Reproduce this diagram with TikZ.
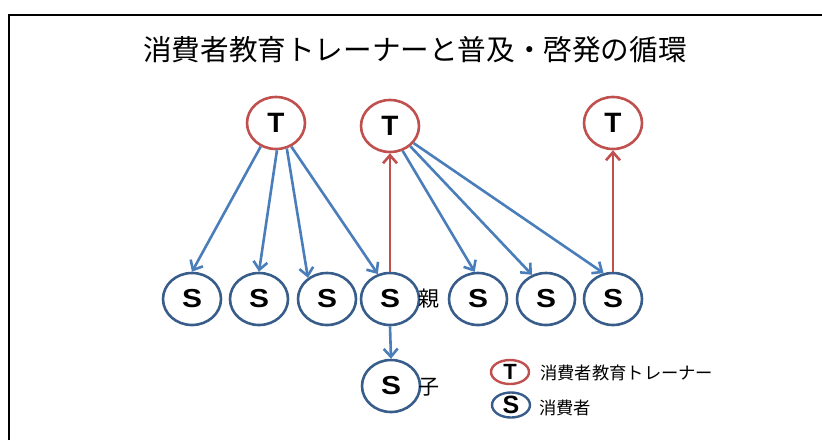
\documentclass[tikz,border=0pt]{standalone}
\usepackage{fontspec}
\setmainfont{Liberation Sans}
\newfontfamily\jp{Noto Sans CJK JP}
\usetikzlibrary{shapes.geometric,arrows.meta}
\definecolor{tred}{RGB}{192,80,77}
\definecolor{sblue}{RGB}{56,93,138}
\definecolor{ablue}{RGB}{74,126,187}
\newcommand{\wideS}{\scalebox{1.15}[1]{S}}
\tikzset{
  tnode/.style={ellipse,draw=tred,line width=2.6pt,minimum width=58pt,minimum height=52pt,inner sep=0pt,font=\bfseries\fontsize{28}{28}\selectfont},
  snode/.style={ellipse,draw=sblue,line width=2.6pt,minimum width=58pt,minimum height=52pt,inner sep=0pt,font=\bfseries\fontsize{26}{26}\selectfont},
  tleg/.style={ellipse,draw=tred,line width=2.4pt,minimum width=38pt,minimum height=24pt,inner sep=0pt,font=\bfseries\fontsize{22}{22}\selectfont},
  sleg/.style={ellipse,draw=sblue,line width=2.4pt,minimum width=38pt,minimum height=24pt,inner sep=0pt,font=\bfseries\fontsize{25}{25}\selectfont},
  barr/.style={draw=ablue,line width=2.6pt,-{Straight Barb[length=8pt,width=14pt]}},
  rarr/.style={draw=tred,line width=2.6pt,-{Straight Barb[length=8pt,width=14pt]}},
  jtxt/.style={inner sep=0pt,font=\jp\fontsize{21}{21}\selectfont},
  legtxt/.style={inner sep=0pt,anchor=west,font=\jp\fontsize{17.3}{17.3}\selectfont},
}
\begin{document}
\begin{tikzpicture}[x=1pt,y=-1pt]
\useasboundingbox (0,0) rectangle (822,440);
\draw[line width=2pt] (9,440) -- (9,15) -- (822,15);
\node[inner sep=0pt,font=\jp\fontsize{28.6}{28.6}\selectfont] (title) at (415,50) {消費者教育トレーナーと普及・啓発の循環};
% trainers
\node[tnode] (T1) at (276,123) {T};
\node[tnode] (T2) at (390,126) {T};
\node[tnode] (T3) at (613,123) {T};
% consumers
\node[snode] (S1) at (192,299) {\wideS};
\node[snode] (S2) at (259,299) {\wideS};
\node[snode] (S3) at (327,299) {\wideS};
\node[snode] (S4) at (390,299) {\wideS};
\node[snode] (S5) at (478,299) {\wideS};
\node[snode] (S6) at (546,299) {\wideS};
\node[snode] (S7) at (613,299) {\wideS};
\node[snode] (C) at (391,386) {\wideS};
\node[jtxt] (oya) at (429,299) {親};
\node[jtxt] (ko) at (429,387) {子};
% arrows
\draw[barr] (T1.-123) -- (S1.north);
\draw[barr] (T1.-88) -- (S2.north);
\draw[barr] (T1.-67) -- (S3.132);
\draw[barr] (T1.-57) -- (S4.116);
\draw[barr] (T2.-63) -- (S5.97);
\draw[barr] (T2.-45) -- (S6.120);
\draw[barr] (T2.-36) -- (S7.110);
\draw[rarr] (S4.north) -- (T2.south);
\draw[rarr] (S7.north) -- (T3.south);
\draw[barr] (S4.south) -- (C.north);
% legend
\node[tleg] (LT) at (510,372) {T};
\node[sleg] (LS) at (511,405) {S};
\node[legtxt] (LTt) at (540,373) {消費者教育トレーナー};
\node[legtxt] (LSt) at (539,408) {消費者};
\end{tikzpicture}
\end{document}
